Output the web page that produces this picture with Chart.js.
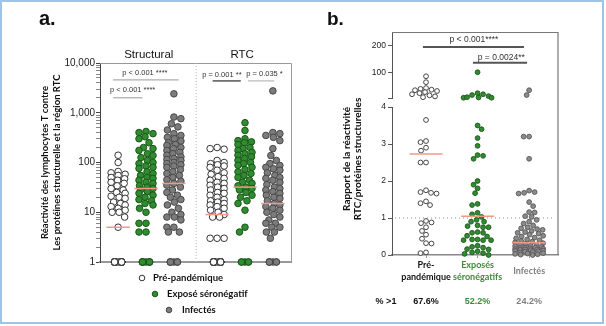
<!DOCTYPE html>
<html lang="fr">
<head>
<meta charset="UTF-8">
<title>Réactivité des lymphocytes T</title>
<script src="https://cdn.jsdelivr.net/npm/chart.js@4.4.1/dist/chart.umd.min.js"></script>
<style>
  html, body { margin: 0; padding: 0; background: #fff; }
  #wrap { position: relative; width: 606px; height: 326px; overflow: hidden; }
  #wrap canvas { position: absolute; top: 0; }
  #frame { position: absolute; left: 0; top: 0; width: 604px; height: 324px; box-sizing: border-box;
           border: 2px solid #9fc4e8; pointer-events: none; }
</style>
</head>
<body>
<div id="wrap">
  <canvas id="chartA" width="300" height="326" style="left:0"></canvas>
  <canvas id="chartB" width="306" height="326" style="left:300px"></canvas>
  <div id="frame"></div>
</div>
<script>
// ---- panel a : responses (log axis, zero responses sit on the "1" line) ----
const structPre = [140,100,66,62,58,55,50,47,44,40,38,34,30,28,25,24,21,20,19,16,15,14,13,12,11,10,10,8,5,
  1,1,1,1,1,1,1,1,1,1,1,1,1,1,1,1,1,1,1,1,1,1,1,1,1,1,1,1,1];
const structExp = [420,400,380,330,300,250,200,190,175,150,138,126,110,100,95,85,80,76,65,60,55,50,48,44,40,38,34,32,
  30,28,26,24,22,20,18,17,15,14,12,10,6,6,4,4, 1,1,1,1,1,1,1,1,1,1];
const structInf = [2400,820,760,600,520,450,380,350,320,300,270,250,230,220,200,190,175,160,150,140,130,120,115,110,
  100,95,90,85,80,72,65,60,55,50,45,42,38,35,32,28,25,22,20,18,16,14,12,10,9,8,8,7,5,5,4,4, 1,1,1,1,1,1,1,1];
const rtcPre = [200,190,185,110,100,95,90,85,80,70,62,58,52,48,44,40,38,35,32,30,28,25,24,22,20,18,17,16,15,14,13,12,
  11,10,9,8,8,3,3,3, 1,1,1,1,1,1,1,1,1,1,1,1,1,1,1,1,1,1,1,1,1,1,1,1,1,1,1,1,1,1];
const rtcExp = [630,440,300,275,260,250,230,200,190,175,160,150,140,130,120,110,100,95,88,80,72,65,60,55,50,44,40,38,
  34,32,30,28,25,22,20,17,15,11,5,4, 1,1,1,1,1];
const rtcInf = [2750,400,380,350,320,275,190,138,110,95,87,80,75,70,62,55,50,48,44,40,36,32,30,28,26,24,22,20,19,17,
  15,14,13,12,11,10,9,8,7,6,6,5,5,4,4,3, 1,1,1,1,1,1];
const structMedians = [5, 30, 38];
const rtcMedians = [9, 32, 15];
const panelTitles = ['Structural', 'RTC'];
const groupNames = ['Pré-pandémique', 'Exposé séronégatif', 'Infectés'];
const yTicksA = [1, 10, 100, 1000, 10000];

// ---- panel b : RTC / structural ratio (broken axis) ----
const ratioPre = [85,63,41,38,35,33,30,26,22,18,14,10,7, 3.65,3.08,3.05,2.9,2.82,2.5,2.5,1.75,1.7,1.68,1.66,1.45,1.4,
  1.35,0.92,0.88,0.86,0.75,0.65,0.55,0.44,0.32,0.31,0.07,0.05];
const ratioExp = [100,22,18,11,6,5,5,7,15, 3.5,3.4,3.16,2.95,2.7,2.68,2.6,2.0,1.9,1.8,1.67,1.38,1.35,1.14,1.1,1.03,
  0.95,0.9,0.9,0.8,0.78,0.75,0.75,0.62,0.6,0.6,0.52,0.5,0.42,0.42,0.4,0.4,0.4,0.25,0.22,0.2,0.16,0.15,0.1,0.07,0.05,0.03,0];
const ratioInf = [33,15, 3.2,3.2,2.6,1.74,1.7,1.68,1.66,1.43,1.32,1.16,1.15,1.05,1.03,0.95,0.9,0.85,0.8,0.75,0.72,0.7,
  0.68,0.65,0.62,0.6,0.58,0.55,0.52,0.5,0.47,0.45,0.42,0.4,0.38,0.36,0.34,0.32,0.3,0.28,0.27,0.25,0.24,0.22,0.2,0.2,
  0.19,0.18,0.17,0.16,0.15,0.15,0.14,0.13,0.12,0.11,0.1,0.09,0.08,0.07,0.05,0.04,0.03,0.02,0.01,0];
const ratioMedians = [2.73, 1.05, 0.33];
const ratioLabels = [['Pré-', 'pandémique'], ['Exposés', 'séronégatifs'], ['Infectés']];
const pctAbove1 = ['67.6%', '52.2%', '24.2%'];
const yTicksLow = [0, 1, 2, 3, 4];
const yTicksTop = [4, 100, 200];

// ---- styles ----
const SANS = "'Liberation Sans', Arial, sans-serif";
const CAL = "Lato, 'Noto Sans', sans-serif";
const WHITE = {bg: '#ffffff', line: '#333333'};
const GREEN = {bg: '#2f8c2f', line: '#1b561b'};
const GREY = {bg: '#7c7c7c', line: '#474747'};
const GREY_B = {bg: '#8c8c8c', line: '#555555'};
const MED = '#f39a86';
const textColors = ['#111111', '#3d8b37', '#808080'];

// pack points of a group side by side (pixel space) without overlap
function swarmOffsets(pys, caps, d) {
  const placed = [];
  return pys.map((py, i) => {
    let best = 0, bestCost = Infinity;
    for (let x = -caps[i]; x <= caps[i] + 1e-6; x += 0.5) {
      let overlap = 0;
      for (const p of placed) {
        const dist = Math.hypot(p.x - x, p.y - py);
        if (dist < d) overlap += d - dist;
      }
      const cost = overlap * 50 + Math.abs(x) + (i % 2 ? x : -x) * 0.01;
      if (cost < bestCost) { bestCost = cost; best = x; }
    }
    placed.push({x: best, y: py});
    return best;
  });
}

function spread(chart, groups, d, capFn) {
  const xs = chart.scales.x;
  groups.forEach(g => {
    const items = [];
    g.sets.forEach(i => {
      const ds = chart.data.datasets[i];
      const ys = chart.scales[ds.yAxisID];
      ds.data.forEach(pt => items.push({pt, py: ys.getPixelForValue(pt.y)}));
    });
    items.sort((a, b) => a.py - b.py);
    const cx = xs.getPixelForValue(g.x);
    const offs = swarmOffsets(items.map(it => it.py), items.map(it => capFn(it.pt.y)), d);
    items.forEach((it, k) => { it.pt.x = xs.getValueForPixel(cx + offs[k]); });
  });
  chart.update('none');
}

function bracket(ctx, xs, ys, b) {
  const x1 = xs.getPixelForValue(b.x1), x2 = xs.getPixelForValue(b.x2), y = ys.getPixelForValue(b.y);
  ctx.strokeStyle = b.color; ctx.lineWidth = b.w;
  ctx.beginPath(); ctx.moveTo(x1, y); ctx.lineTo(x2, y); ctx.stroke();
  ctx.fillStyle = '#333'; ctx.font = b.font; ctx.textAlign = 'center'; ctx.textBaseline = 'alphabetic';
  ctx.fillText(b.text, xs.getPixelForValue(b.tx), y - b.gap);
}

// ================= panel a =================
const xPosA = [0, 1, 2, 3.55, 4.55, 5.55];
const seriesA = [structPre, structExp, structInf, rtcPre, rtcExp, rtcInf];
const styleA = [WHITE, GREEN, GREY, WHITE, GREEN, GREY];
const mediansA = structMedians.concat(rtcMedians);
const bracketsA = [
  {x1: -0.18, x2: 2.17, y: 4570, tx: 0.96, text: 'p < 0.001 ****', color: '#999', w: 1, gap: 5},
  {x1: -0.18, x2: 0.87, y: 1995, tx: 0.52, text: 'p < 0.001 ****', color: '#999', w: 1, gap: 6},
  {x1: 3.39, x2: 4.4, y: 4365, tx: 3.72, text: 'p = 0.001 **', color: '#555', w: 1.5, gap: 4},
  {x1: 4.66, x2: 5.6, y: 4365, tx: 5.25, text: 'p = 0.035 *', color: '#aaa', w: 1, gap: 5}
];
const logTicks = [];
for (let p = 1; p < 10000; p *= 10) for (let k = 1; k < 10; k++) logTicks.push(k * p);
logTicks.push(10000);

const dsA = seriesA.map((vals, i) => ({
  label: groupNames[i % 3], yAxisID: 'y', order: 2, clip: false,
  data: vals.map(v => ({x: xPosA[i], y: v})),
  backgroundColor: styleA[i].bg, borderColor: styleA[i].line, borderWidth: 1, pointRadius: 3.3
}));
mediansA.forEach((m, i) => dsA.push({
  yAxisID: 'y', order: 0, showLine: true, pointRadius: 0, borderColor: MED, borderWidth: 1.5,
  data: [{x: xPosA[i] - 0.42, y: m}, {x: xPosA[i] + 0.42, y: m}]
}));
dsA.push({
  yAxisID: 'y', order: 3, showLine: true, pointRadius: 0, borderColor: '#b5b5b5', borderWidth: 1, borderDash: [1, 2],
  data: [{x: 2.8, y: 1}, {x: 2.8, y: 10000}]
});

const panelA = {
  id: 'panelA',
  beforeDatasetsDraw(chart) {
    const {ctx, chartArea: a} = chart;
    ctx.save();
    ctx.strokeStyle = '#999'; ctx.lineWidth = 1;
    ctx.beginPath(); ctx.moveTo(a.left, a.top + 0.5); ctx.lineTo(a.right + 0.5, a.top + 0.5); ctx.lineTo(a.right + 0.5, a.bottom); ctx.stroke();
    ctx.restore();
  },
  afterDraw(chart) {
    const {ctx} = chart, xs = chart.scales.x, ys = chart.scales.y;
    ctx.save();
    ctx.fillStyle = '#111'; ctx.font = 'bold 20px ' + SANS; ctx.textAlign = 'left'; ctx.textBaseline = 'alphabetic';
    ctx.fillText('a.', 39, 25);
    ctx.font = '11.5px ' + SANS; ctx.textAlign = 'center';
    [1.1, 4.45].forEach((x, i) => ctx.fillText(panelTitles[i], xs.getPixelForValue(x), 58));
    bracketsA.forEach(b => bracket(ctx, xs, ys, Object.assign({font: '7.5px ' + SANS}, b)));
    const leg = [[142, 278, 153], [155, 294, 167], [169, 310, 182]];
    leg.forEach(([cx, cy, tx], i) => {
      const st = [WHITE, GREEN, GREY][i];
      ctx.beginPath(); ctx.arc(cx, cy, 2.8, 0, Math.PI * 2);
      ctx.fillStyle = st.bg; ctx.fill(); ctx.strokeStyle = st.line; ctx.lineWidth = 1; ctx.stroke();
      ctx.fillStyle = '#111'; ctx.font = 'bold 9.5px ' + CAL; ctx.textAlign = 'left'; ctx.textBaseline = 'middle';
      ctx.fillText(groupNames[i], tx, cy);
    });
    ctx.restore();
  }
};

const chartA = new Chart(document.getElementById('chartA'), {
  type: 'scatter',
  data: {datasets: dsA},
  plugins: [panelA],
  options: {
    responsive: false, animation: false, events: [],
    layout: {padding: {top: 63, right: 9, left: 0, bottom: 0}},
    plugins: {legend: {display: false}, tooltip: {enabled: false}},
    scales: {
      x: {
        type: 'linear', min: -0.65, max: 6.2,
        ticks: {display: false}, grid: {display: false},
        border: {color: '#999', width: 2},
        afterFit: s => { s.height = 64; }
      },
      y: {
        type: 'logarithmic', min: 1, max: 10000,
        afterBuildTicks: s => { s.ticks = logTicks.map(v => ({value: v})); },
        afterFit: s => { s.width = 100; },
        ticks: {
          autoSkip: false, padding: 1, color: '#222', font: {family: SANS, size: 10},
          callback: v => yTicksA.includes(v) ? v.toLocaleString('en-US') : ''
        },
        grid: {drawOnChartArea: false, tickLength: 4, color: c => yTicksA.includes(c.tick && c.tick.value) ? '#444' : '#888'},
        border: {color: '#444', width: 1},
        title: {
          display: true, color: '#111', padding: {top: 39, bottom: 0},
          font: {family: CAL, size: 9.5, weight: 'bold', lineHeight: 1.26},
          text: ['Réactivité des lymphocytes T contre', 'Les protéines structurelle et la région RTC']
        }
      }
    }
  }
});
spread(chartA, xPosA.map((x, i) => ({x, sets: [i]})), 7.2, v => (v === 1 ? 3.5 : 7));

// ================= panel b =================
const seriesB = [ratioPre, ratioExp, ratioInf];
const styleB = [WHITE, GREEN, GREY_B];
const bracketsB = [
  {x1: -0.06, x2: 1.9, y: 194, tx: 0.93, text: 'p < 0.001****', color: '#555', w: 2, gap: 5},
  {x1: 0.91, x2: 1.96, y: 135, tx: 1.46, text: 'p = 0.0024**', color: '#555', w: 2, gap: 3}
];
const dsB = [];
seriesB.forEach((vals, i) => {
  [['yTop', vals.filter(v => v > 4)], ['y', vals.filter(v => v <= 4)]].forEach(([axis, part]) => dsB.push({
    label: groupNames[i], yAxisID: axis, order: 2, clip: false,
    data: part.map(v => ({x: i, y: v})),
    backgroundColor: styleB[i].bg, borderColor: styleB[i].line, borderWidth: 0.9, pointRadius: 2.4
  }));
});
ratioMedians.forEach((m, i) => dsB.push({
  yAxisID: 'y', order: 0, showLine: true, pointRadius: 0, borderColor: MED, borderWidth: 1.5,
  data: [{x: i - 0.32, y: m}, {x: i + 0.32, y: m}]
}));
dsB.push({
  yAxisID: 'y', order: 3, showLine: true, pointRadius: 0, borderColor: '#888', borderWidth: 1, borderDash: [1, 3],
  data: [{x: -0.6, y: 1}, {x: 2.5, y: 1}]
});

const panelB = {
  id: 'panelB',
  beforeDatasetsDraw(chart) {
    const {ctx, chartArea: a} = chart;
    ctx.save();
    ctx.strokeStyle = '#777'; ctx.lineWidth = 1.2;
    ctx.beginPath(); ctx.moveTo(a.left, a.top + 0.5); ctx.lineTo(a.right, a.top + 0.5); ctx.lineTo(a.right, a.bottom); ctx.stroke();
    ctx.restore();
  },
  afterDraw(chart) {
    const {ctx} = chart, xs = chart.scales.x;
    ctx.save();
    ctx.fillStyle = '#111'; ctx.font = 'bold 19px ' + SANS; ctx.textAlign = 'left'; ctx.textBaseline = 'alphabetic';
    ctx.fillText('b.', 27, 25);
    ctx.font = 'bold 10px ' + CAL; ctx.textAlign = 'center'; ctx.textBaseline = 'middle';
    [['Rapport de la réactivité', 47], ['RTC/protéines structurelles', 58]].forEach(([t, x]) => {
      ctx.save(); ctx.translate(x, 159); ctx.rotate(-Math.PI / 2); ctx.fillText(t, 0, 0); ctx.restore();
    });
    bracketsB.forEach(b => bracket(ctx, xs, chart.scales.yTop, Object.assign({font: '8.5px ' + SANS}, b)));
    ctx.font = 'bold 9px ' + SANS; ctx.textBaseline = 'middle'; ctx.textAlign = 'center';
    ctx.fillStyle = '#111'; ctx.fillText('% >1', 86, 302);
    pctAbove1.forEach((t, i) => { ctx.fillStyle = textColors[i]; ctx.fillText(t, xs.getPixelForValue(i), 302); });
    ctx.restore();
  }
};

const yCommon = {
  type: 'linear', position: 'left', stack: 'ratio', offset: false,
  afterFit: s => { s.width = 92; },
  grid: {drawOnChartArea: false, tickLength: 4, color: '#555'},
  border: {color: '#555', width: 1}
};
const chartB = new Chart(document.getElementById('chartB'), {
  type: 'scatter',
  data: {datasets: dsB},
  plugins: [panelB],
  options: {
    responsive: false, animation: false, events: [],
    layout: {padding: {top: 32, right: 48, left: 0, bottom: 0}},
    plugins: {legend: {display: false}, tooltip: {enabled: false}},
    scales: {
      x: {
        type: 'linear', min: -0.66, max: 2.56,
        afterBuildTicks: s => { s.ticks = [0, 1, 2].map(v => ({value: v})); },
        afterFit: s => { s.height = 71; },
        ticks: {
          autoSkip: false, maxRotation: 0, padding: 7, crossAlign: 'center',
          font: {family: CAL, size: 9, weight: 'bold', lineHeight: 1.3},
          color: c => textColors[c.index], callback: (v, i) => ratioLabels[i]
        },
        grid: {drawOnChartArea: false, tickLength: 3, color: '#999'},
        border: {color: '#888', width: 1.5}
      },
      y: Object.assign({}, yCommon, {
        min: 0, max: 4, stackWeight: 148,
        afterBuildTicks: s => { s.ticks = yTicksLow.map(v => ({value: v})); },
        ticks: {autoSkip: false, padding: 2, color: '#222', font: {family: SANS, size: 8.5}}
      }),
      yGap: {
        type: 'linear', position: 'left', stack: 'ratio', stackWeight: 9, min: 0, max: 1,
        afterFit: s => { s.width = 92; },
        ticks: {display: false}, grid: {display: false}, border: {display: false}
      },
      yTop: Object.assign({}, yCommon, {
        min: 4, max: 250, stackWeight: 66,
        afterBuildTicks: s => { s.ticks = yTicksTop.map(v => ({value: v})); },
        ticks: {autoSkip: false, padding: 2, color: '#222', font: {family: SANS, size: 8.5},
                callback: v => (v === 4 ? '' : String(v))}
      })
    }
  }
});
spread(chartB, [0, 1, 2].map(i => ({x: i, sets: [2 * i, 2 * i + 1]})), 5.4, () => 14);
</script>
</body>
</html>
